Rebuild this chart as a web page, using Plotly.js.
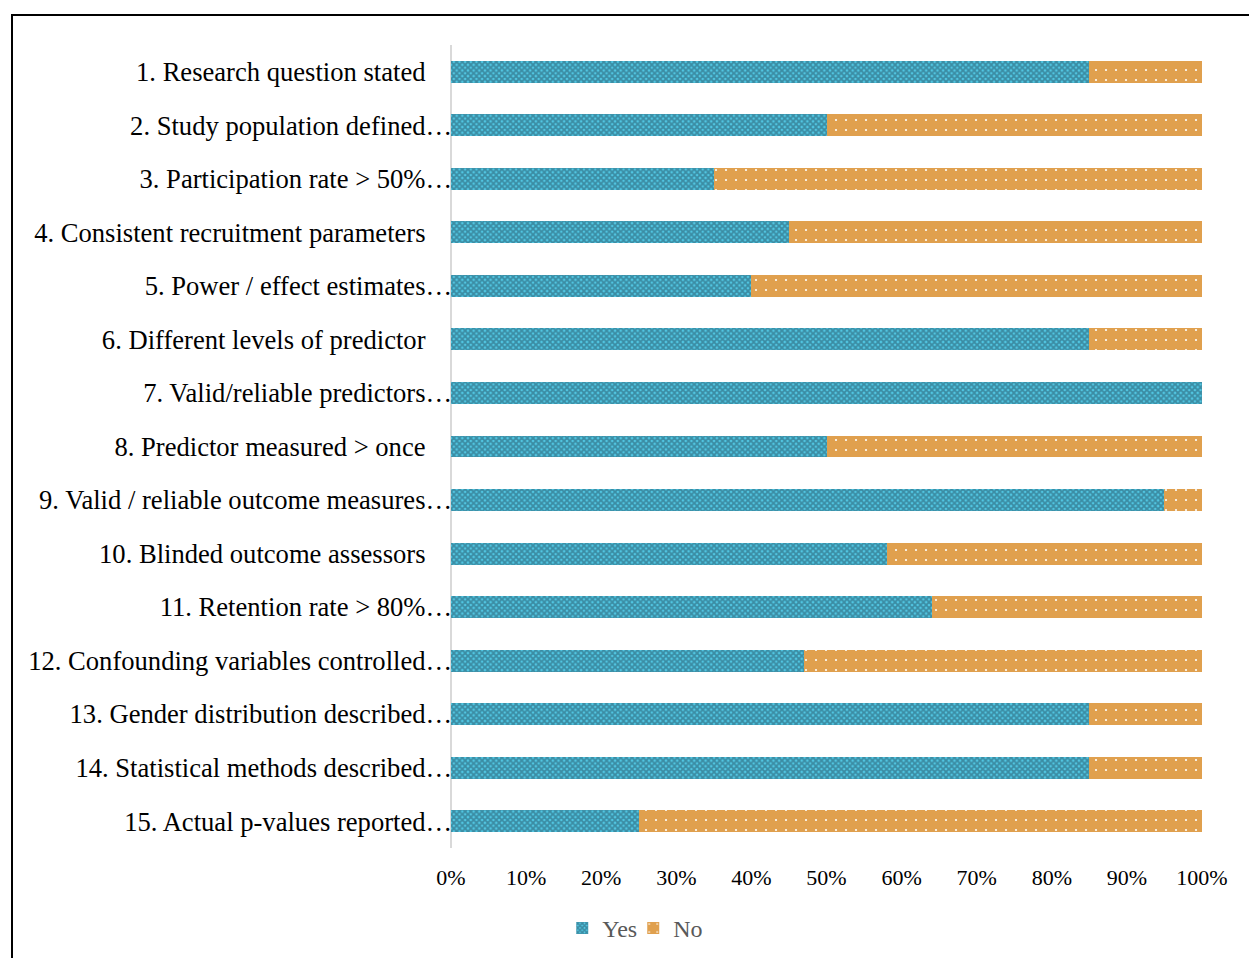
<!DOCTYPE html>
<html>
<head>
<meta charset="utf-8">
<script src="https://cdn.plot.ly/plotly-3.0.1.min.js"></script>
<style>
  html, body { margin: 0; padding: 0; background: #ffffff; overflow: hidden; }
  #frame { position: absolute; left: 11px; top: 14px; width: 1300px; height: 1000px;
           border-left: 2px solid #000; border-top: 2px solid #000; pointer-events: none; z-index: 5; }
  #chart { position: absolute; left: 0; top: 0; width: 1249px; height: 958px; }
</style>
</head>
<body>
<div id="chart"></div>
<div id="frame"></div>
<script>
// Criteria (truncated labels end with an ellipsis, as in the source chart)
const categories = [
  "1. Research question stated",
  "2. Study population defined\u2026",
  "3. Participation rate > 50%\u2026",
  "4. Consistent recruitment parameters",
  "5. Power / effect estimates\u2026",
  "6. Different levels of predictor",
  "7. Valid/reliable predictors\u2026",
  "8. Predictor measured > once",
  "9. Valid / reliable outcome measures\u2026",
  "10. Blinded outcome assessors",
  "11. Retention rate > 80%\u2026",
  "12. Confounding variables controlled\u2026",
  "13. Gender distribution described\u2026",
  "14. Statistical methods described\u2026",
  "15. Actual p-values reported\u2026"
];
// Percent of studies
const yesValues = [85, 50, 35, 45, 40, 85, 100, 50, 95, 58, 64, 47, 85, 85, 25];
const noValues  = [15, 50, 65, 55, 60, 15, 0, 50, 5, 42, 36, 53, 15, 15, 75];
const xTickVals = [0, 10, 20, 30, 40, 50, 60, 70, 80, 90, 100];
const xTickText = ["0%", "10%", "20%", "30%", "40%", "50%", "60%", "70%", "80%", "90%", "100%"];

// labels without ellipsis get padding equal to the ellipsis width so the text aligns like the source
const tickText = categories.map(c => c.endsWith("\u2026") ? c : c + "\u00A0\u00A0\u00A0\u00A0");

const traces = [
  {
    type: "bar", orientation: "h", name: "Yes",
    y: categories, x: yesValues,
    marker: {
      color: "#46A9C2",
      line: { width: 0 },
      pattern: { shape: "x", size: 4, solidity: 0.7, fgcolor: "#3B8CA3", bgcolor: "#52C7E4", fillmode: "replace" }
    },
    hoverinfo: "x+y"
  },
  {
    type: "bar", orientation: "h", name: "No",
    y: categories, x: noValues,
    marker: {
      color: "#E0A04E",
      line: { width: 0 },
      pattern: { shape: ".", size: 10, solidity: 0.035, fgcolor: "#FFFFFF", bgcolor: "#E0A04E", fillmode: "replace" }
    },
    hoverinfo: "x+y"
  }
];

const layout = {
  width: 1249, height: 958,
  margin: { l: 451, r: 47, t: 45, b: 110 },
  paper_bgcolor: "#ffffff", plot_bgcolor: "#ffffff",
  barmode: "stack",
  bargap: 0.59,
  showlegend: true,
  legend: {
    orientation: "h", xref: "container", yref: "container",
    x: 0.507, xanchor: "center", y: 0.031, yanchor: "middle",
    font: { family: "Liberation Serif, Times New Roman, serif", size: 24, color: "#595959" },
    itemwidth: 30, traceorder: "normal",
    entrywidth: 26, entrywidthmode: "pixels"
  },
  xaxis: {
    range: [0, 100],
    tickvals: xTickVals, ticktext: xTickText,
    showgrid: false, zeroline: false, showline: false, ticks: "",
    ticklabelstandoff: 14,
    tickfont: { family: "Liberation Serif, Times New Roman, serif", size: 22, color: "#000000" },
    fixedrange: true
  },
  yaxis: {
    type: "category",
    autorange: "reversed",
    anchor: "free", position: 0.0015,
    tickvals: categories, ticktext: tickText,
    showgrid: false, zeroline: false,
    showline: false,
    ticks: "", ticklabelstandoff: 0,
    tickfont: { family: "Liberation Serif, Times New Roman, serif", size: 26.6, color: "#000000" },
    fixedrange: true
  },
  shapes: [
    { type: "line", xref: "paper", yref: "paper", x0: 0, x1: 0, y0: 0, y1: 1,
      line: { color: "#D9D9D9", width: 2 }, layer: "below" }
  ],
  font: { family: "Liberation Serif, Times New Roman, serif" }
};

Plotly.newPlot("chart", traces, layout, { displayModeBar: false, staticPlot: true });
</script>
</body>
</html>
